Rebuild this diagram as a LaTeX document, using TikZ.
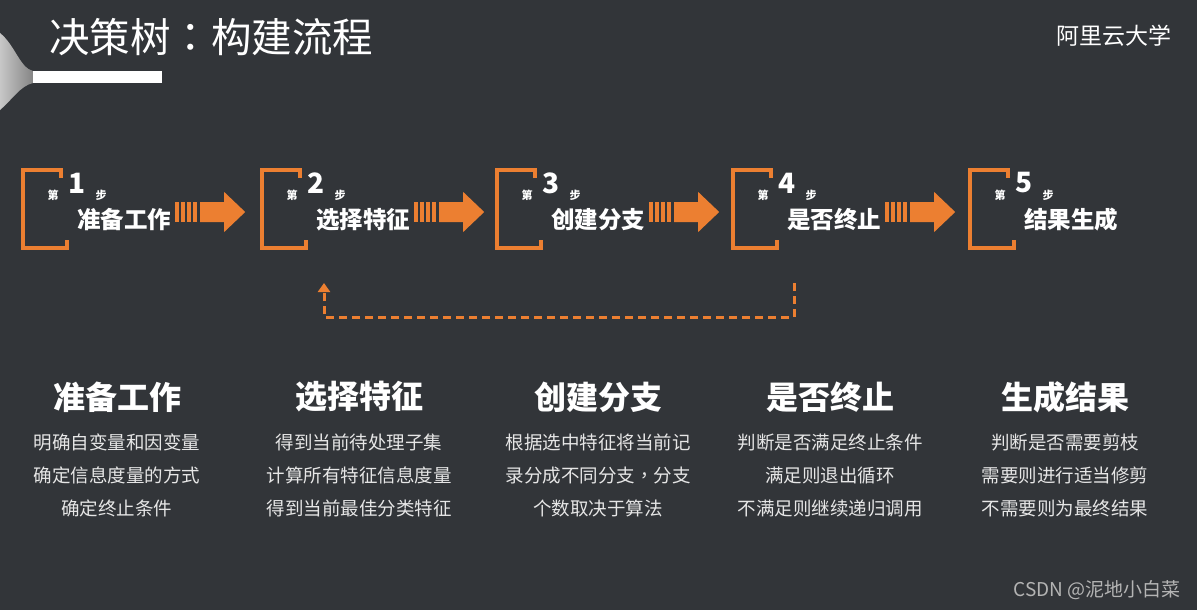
\documentclass[tikz,border=0pt]{standalone}
\usepackage{fontspec}
\setmainfont{Noto Sans CJK SC}
\newfontfamily\puncfont{Noto Sans CJK TC}
\usepackage{xcolor}
\usetikzlibrary{arrows.meta,calc}
\definecolor{slidebg}{HTML}{323539}
\definecolor{accent}{HTML}{EC7F31}
\definecolor{bodytxt}{HTML}{E6E6E6}
\definecolor{marktxt}{HTML}{B4B4B4}

\begin{document}
\begin{tikzpicture}[x=1pt,y=-1pt,
    bracket/.style={draw=accent,line width=4pt},
    stepno/.style={text=white,font=\fontsize{28}{28}\selectfont\bfseries,inner sep=0pt},
    stepchar/.style={text=white,font=\fontsize{11}{11}\selectfont\bfseries,inner sep=0pt},
    steplabel/.style={text=white,font=\fontsize{23.5}{24}\selectfont\bfseries,inner sep=0pt},
    colhead/.style={text=white,font=\fontsize{32}{32}\selectfont\bfseries,inner sep=0pt},
    colbody/.style={text=bodytxt,font=\fontsize{18.5}{33}\selectfont,align=center,inner sep=0pt},
    loopback/.style={draw=accent,line width=3pt,dash pattern=on 8pt off 5pt,-{Triangle[length=9pt,width=12pt]}},
    fatarrow/.pic={
        \foreach \b in {0,6,12,18} \fill[accent] (\b,-10) rectangle (\b+3.5,10);
        \fill[accent] (25,-10) -- (49,-10) -- (49,-20) -- (70,0) -- (49,20) -- (49,10) -- (25,10) -- cycle;
    }
]
\fill[slidebg] (0,0) rectangle (1197,610);
\useasboundingbox (0,0) rectangle (1197,610);
\shade[left color=black!22,right color=black!48] (0,33) .. controls (15,45) and (20,68) .. (33,71) -- (33,83) .. controls (20,86) and (12,100) .. (0,110) -- cycle;
\fill[white] (33,71) rectangle (162,83);
\node[anchor=west,text=white,font=\fontsize{40.5}{41}\selectfont,inner sep=0pt] (title) at (49,37) {决策树{\puncfont ：}构建流程};
\node[anchor=east,text=white,font=\fontsize{23}{23}\selectfont,inner sep=0pt] (brand) at (1172,36) {阿里云大学};
\foreach \i/\x/\txt in {1/23/准备工作,2/262/选择特征,3/497/创建分支,4/733/是否终止,5/970/结果生成}{
    \draw[bracket] (\x+38,178) -- (\x+38,170) -- (\x,170) -- (\x,248) -- (\x+44,248) -- (\x+44,240);
    \node[stepchar] (di\i) at (\x+30,195) {第};
    \node[stepno] (no\i) at (\x+54,183) {\i};
    \node[stepchar] (bu\i) at (\x+78,195) {步};
    \node[steplabel] (lbl\i) at (\x+101,220) {\txt};
}
\foreach \i in {1,...,4}
    \pic at ($(lbl\i.east)+(4,-8)$) {fatarrow};
\coordinate (backfrom) at ($(no4.south)+(7,0)$);
\coordinate (backto) at ($(no2.south)+(8,0)$);
\draw[loopback] (backfrom |- 0,283) -- (backfrom |- 0,317) -| (backto |- 0,283);
\foreach \i/\cx/\head/\body in {
    1/117/准备工作/{明确自变量和因变量\\确定信息度量的方式\\确定终止条件},
    2/359/选择特征/{得到当前待处理子集\\计算所有特征信息度量\\得到当前最佳分类特征},
    3/598/创建分支/{根据选中特征将当前记\\录分成不同分支{\puncfont ，}分支\\个数取决于算法},
    4/830/是否终止/{判断是否满足终止条件\\满足则退出循环\\不满足则继续递归调用},
    5/1065/生成结果/{判断是否需要剪枝\\需要则进行适当修剪\\不需要则为最终结果}}{
    \node[colhead] (head\i) at (\cx,397) {\head};
    \node[colbody] (body\i) at (\cx,475) {\body};
}
\node[anchor=east,text=marktxt,font=\fontsize{19}{19}\selectfont,inner sep=0pt] (mark) at (1181,590) {CSDN @泥地小白菜};
\end{tikzpicture}
\end{document}
